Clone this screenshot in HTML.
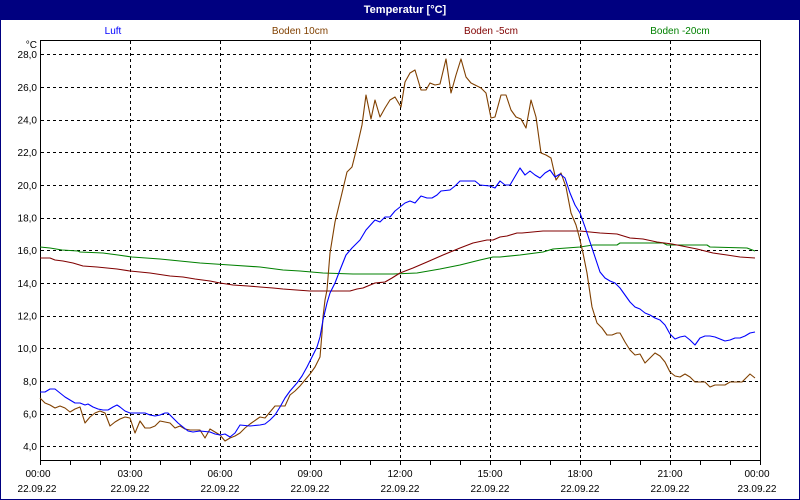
<!DOCTYPE html>
<html><head><meta charset="utf-8"><style>
html,body{margin:0;padding:0;background:#fff;}
svg{display:block;}
text{font-family:"Liberation Sans",sans-serif;font-size:10px;}
</style></head><body>
<svg width="800" height="500" viewBox="0 0 800 500" xmlns="http://www.w3.org/2000/svg">
<rect x="0" y="0" width="800" height="500" fill="#fff"/>
<rect x="0.5" y="0.5" width="799" height="499" fill="none" stroke="#000080" stroke-width="1"/>
<rect x="0" y="0" width="800" height="20" fill="#000080"/>
<text x="405" y="13" fill="#fff" font-weight="bold" text-anchor="middle" style="font-size:11px">Temperatur [°C]</text>
<text x="113" y="34" fill="#0000ff" text-anchor="middle">Luft</text>
<text x="300" y="34" fill="#804000" text-anchor="middle">Boden 10cm</text>
<text x="491" y="34" fill="#800000" text-anchor="middle">Boden -5cm</text>
<text x="680" y="34" fill="#008000" text-anchor="middle">Boden -20cm</text>
<g stroke="#000" stroke-width="1" stroke-dasharray="3,3" fill="none">
<path d="M41 54.5H760M41 87.5H760M41 120.5H760M41 152.5H760M41 185.5H760M41 218.5H760M41 250.5H760M41 283.5H760M41 316.5H760M41 348.5H760M41 381.5H760M41 414.5H760M41 446.5H760"/>
<path d="M130.5 41V460M220.5 41V460M310.5 41V460M400.5 41V460M490.5 41V460M580.5 41V460M670.5 41V460"/>
</g>
<g stroke="#000" stroke-width="1" fill="none">
<rect x="40.5" y="40.5" width="720" height="420"/>
<path d="M40.5 460V465M70.5 460V465M100.5 460V465M130.5 460V465M160.5 460V465M190.5 460V465M220.5 460V465M250.5 460V465M280.5 460V465M310.5 460V465M340.5 460V465M370.5 460V465M400.5 460V465M430.5 460V465M460.5 460V465M490.5 460V465M520.5 460V465M550.5 460V465M580.5 460V465M610.5 460V465M640.5 460V465M670.5 460V465M700.5 460V465M730.5 460V465M760.5 460V465"/>
</g>
<g fill="#000" text-anchor="end">
<text x="37" y="48">°C</text>
<text x="37" y="58">28,0</text>
<text x="37" y="91">26,0</text>
<text x="37" y="123.5">24,0</text>
<text x="37" y="156">22,0</text>
<text x="37" y="189">20,0</text>
<text x="37" y="221.5">18,0</text>
<text x="37" y="254">16,0</text>
<text x="37" y="287">14,0</text>
<text x="37" y="319.5">12,0</text>
<text x="37" y="352">10,0</text>
<text x="37" y="385">8,0</text>
<text x="37" y="417.5">6,0</text>
<text x="37" y="450">4,0</text>
</g>
<g fill="#000" text-anchor="middle">
<text x="38" y="477">00:00</text><text x="37" y="492">22.09.22</text>
<text x="130" y="477">03:00</text><text x="130" y="492">22.09.22</text>
<text x="220" y="477">06:00</text><text x="220" y="492">22.09.22</text>
<text x="310" y="477">09:00</text><text x="310" y="492">22.09.22</text>
<text x="400" y="477">12:00</text><text x="400" y="492">22.09.22</text>
<text x="490" y="477">15:00</text><text x="490" y="492">22.09.22</text>
<text x="580" y="477">18:00</text><text x="580" y="492">22.09.22</text>
<text x="670" y="477">21:00</text><text x="670" y="492">22.09.22</text>
<text x="757" y="477">00:00</text><text x="757" y="492">23.09.22</text>
</g>
<g fill="none" stroke-width="1.1" stroke-linejoin="round">
<polyline stroke="#008000" points="40,247 50,248 62,250 78,251 80,252 103,253 118,255 132,257 160,259 200,263 230,265 260,267 283,270 300,271 323,273 353,274 393,274 417,273 440,269 460,265 480,260 493,257 500,257 520,255 543,252 553,249 580,247 593,245 617,245 620,243 663,243 667,245 707,245 710,247 747,248 755,251"/>
<polyline stroke="#800000" points="40,258 50,258 55,260 63,261 73,263 83,266 97,267 107,268 117,269 130,271 150,273 170,276 183,277 195,279 210,281 220,283 233,285 248,286 260,287 273,288 283,289 310,291 350,291 357,289 363,288 375,283 385,282 392,278 400,273 413,268 427,262 443,255 460,248 473,243 487,240 493,240 500,237 507,236 517,233 522,233 543,231 580,231 600,233 617,234 630,238 643,239 657,242 672,244 682,246 697,249 713,253 727,255 740,257 755,258"/>
<polyline stroke="#804000" points="40,398 45,403 50,405 55,408 60,406 65,408 70,412 75,409 80,407 85,423 90,417 95,413 100,411 105,413 110,426 115,422 120,419 125,417 130,418 135,433 140,421 145,428 150,428 155,426 160,421 165,422 170,423 175,428 180,426 185,429 190,430 195,430 200,430 205,438 210,429 215,432 220,435 225,441 230,438 235,436 240,433 245,428 250,424 260,417 265,418 270,412 275,406 285,406 290,395 295,391 300,386 305,380 310,374 315,367 320,357 322,333 323,317 325,300 327,290 330,253 335,222 342,193 347,172 352,167 357,147 362,125 366,95 371,119 375,100 380,117 385,108 390,100 395,97 401,107 405,82 410,73 415,70 421,90 426,90 430,83 435,85 440,84 446,59 451,93 456,75 461,59 466,77 471,83 481,88 486,93 491,118 495,117 501,95 506,95 511,110 516,117 521,119 526,128 531,100 536,117 541,153 546,155 551,158 556,180 561,173 566,187 571,213 576,225 579,236 583,253 587,273 592,307 597,323 602,328 607,335 612,335 617,333 620,333 625,342 630,350 635,355 640,354 645,363 650,358 655,353 660,356 665,362 670,372 675,376 680,377 685,374 690,377 695,382 705,382 710,387 715,385 725,385 730,382 742,382 745,379 750,374 755,378"/>
<polyline stroke="#0000ff" points="40,392 45,392 50,389 55,389 60,393 65,397 70,400 75,403 80,403 85,405 88,404 93,407 98,409 103,410 108,410 113,407 117,405 120,407 125,411 130,413 135,413 140,413 145,413 150,415 155,416 160,415 165,413 168,413 173,418 178,423 183,427 188,431 193,432 200,431 210,432 215,434 220,435 225,434 230,437 235,433 240,425 250,426 260,425 265,424 270,420 275,415 280,407 285,398 290,391 297,383 302,376 307,367 312,357 317,347 320,337 323,320 327,303 330,293 335,283 340,270 346,255 352,248 360,240 366,230 375,220 380,222 385,217 390,217 395,211 400,207 405,203 410,201 415,203 421,196 427,198 432,198 437,195 441,191 450,190 455,186 460,181 475,181 480,185 490,186 495,188 500,181 505,185 510,185 520,168 525,175 530,171 535,175 540,178 545,173 550,170 555,177 560,174 565,178 570,193 575,205 580,213 585,227 590,242 595,257 600,272 605,278 610,281 615,283 620,288 625,295 630,302 635,307 640,309 645,313 650,315 655,318 660,320 665,325 670,334 675,339 680,337 685,336 690,340 695,345 700,338 705,336 710,336 715,337 720,339 725,341 730,340 735,338 740,338 745,336 750,333 755,332"/>
</g>
</svg>
</body></html>
